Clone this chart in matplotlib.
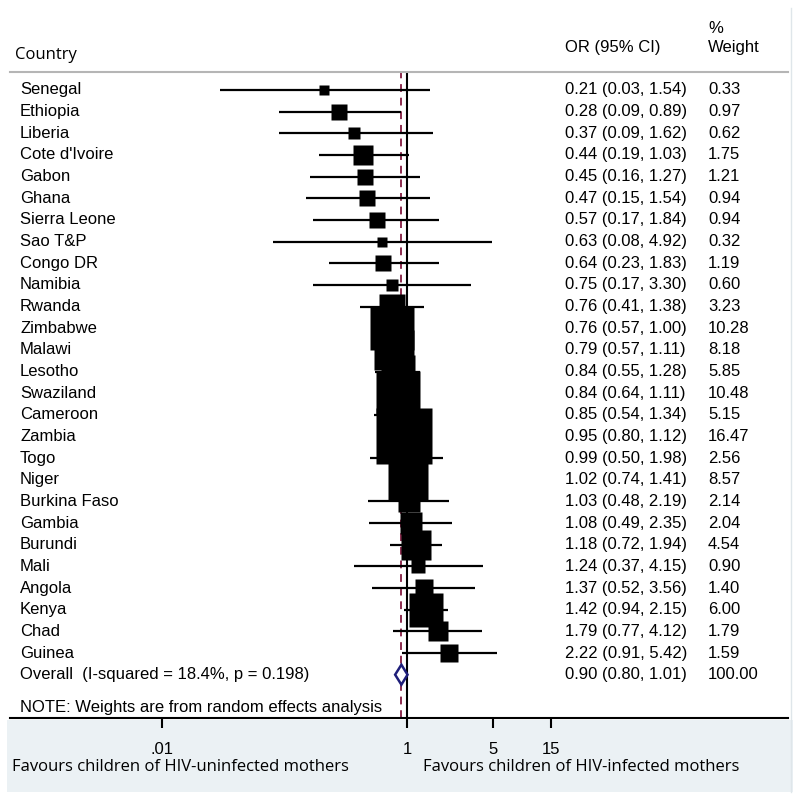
import numpy as np
import matplotlib
matplotlib.use("Agg")
import matplotlib.pyplot as plt
from matplotlib.patches import Rectangle
from matplotlib.lines import Line2D
from matplotlib.ticker import NullLocator

# ---------- data ----------
countries = [
    "Senegal", "Ethiopia", "Liberia", "Cote d'Ivoire", "Gabon", "Ghana",
    "Sierra Leone", "Sao T&P", "Congo DR", "Namibia", "Rwanda", "Zimbabwe",
    "Malawi", "Lesotho", "Swaziland", "Cameroon", "Zambia", "Togo", "Niger",
    "Burkina Faso", "Gambia", "Burundi", "Mali", "Angola", "Kenya", "Chad",
    "Guinea",
]
odds = [0.21, 0.28, 0.37, 0.44, 0.45, 0.47, 0.57, 0.63, 0.64, 0.75, 0.76,
        0.76, 0.79, 0.84, 0.84, 0.85, 0.95, 0.99, 1.02, 1.03, 1.08, 1.18,
        1.24, 1.37, 1.42, 1.79, 2.22]
ci_low = [0.03, 0.09, 0.09, 0.19, 0.16, 0.15, 0.17, 0.08, 0.23, 0.17, 0.41,
          0.57, 0.57, 0.55, 0.64, 0.54, 0.80, 0.50, 0.74, 0.48, 0.49, 0.72,
          0.37, 0.52, 0.94, 0.77, 0.91]
ci_high = [1.54, 0.89, 1.62, 1.03, 1.27, 1.54, 1.84, 4.92, 1.83, 3.30, 1.38,
           1.00, 1.11, 1.28, 1.11, 1.34, 1.12, 1.98, 1.41, 2.19, 2.35, 1.94,
           4.15, 3.56, 2.15, 4.12, 5.42]
weights = [0.33, 0.97, 0.62, 1.75, 1.21, 0.94, 0.94, 0.32, 1.19, 0.60, 3.23,
           10.28, 8.18, 5.85, 10.48, 5.15, 16.47, 2.56, 8.57, 2.14, 2.04,
           4.54, 0.90, 1.40, 6.00, 1.79, 1.59]

overall_or, overall_lo, overall_hi, overall_w = 0.90, 0.80, 1.01, 100.00
overall_label = "Overall  (I-squared = 18.4%, p = 0.198)"
note_label = "NOTE: Weights are from random effects analysis"
tick_vals = [0.01, 1, 5, 15]
tick_labels = [".01", "1", "5", "15"]
left_label = "Favours children of HIV-uninfected mothers"
right_label = "Favours children of HIV-infected mothers"

# ---------- layout ----------
plt.rcParams["font.family"] = ["Liberation Sans", "DejaVu Sans"]
FS = 12
W = H = 800.0

fig = plt.figure(figsize=(8, 8), dpi=100)

# bottom shaded panel + faint frame on the right
fig.add_artist(Rectangle((7 / W, 8 / H), 786 / W, 72 / H,
                         transform=fig.transFigure, facecolor="#ebf1f4",
                         edgecolor="none", zorder=0))
fig.add_artist(Line2D([791 / W, 791 / W], [8 / H, 1 - 8 / H],
                      transform=fig.transFigure, color="#dfe6ea", lw=1))

ax = fig.add_axes([10 / W, 1 - 718 / H, 778 / W, (718 - 72) / H])
ax.patch.set_alpha(0)
ax.set_xscale("log")
px_per_dec = 122.5
ax.set_xlim(10 ** ((10 - 407) / px_per_dec), 10 ** ((788 - 407) / px_per_dec))
ax.set_ylim(29.0, -0.83)

for s in ("left", "right"):
    ax.spines[s].set_visible(False)
ax.spines["top"].set_color("#b5b5b5")
ax.spines["top"].set_linewidth(1.5)
ax.spines["bottom"].set_linewidth(1.5)

ax.set_xticks(tick_vals, tick_labels)
ax.xaxis.set_minor_locator(NullLocator())
ax.tick_params(axis="x", direction="out", length=7, width=1.5, pad=10,
               labelsize=FS)
ax.set_yticks([])

rows = np.arange(len(countries))

ax.axvline(1, color="black", lw=1.5, zorder=1)
ax.axvline(overall_or, color="#8c2d4f", lw=1.4, dashes=(4, 3), zorder=1)

ax.hlines(rows, ci_low, ci_high, color="black", lw=1.6, zorder=2)
for y, o, w in zip(rows, odds, weights):
    ms = 9.3 * np.sqrt(w) + 1.9
    ax.plot(o, y, marker="s", ms=ms, color="black", mec="none", zorder=3)

yo = len(countries)
d = 0.46
ax.fill([overall_lo, overall_or, overall_hi, overall_or],
        [yo, yo - d, yo, yo + d], facecolor="white", edgecolor="#1f1f7a",
        lw=1.8, zorder=4)

tr = ax.get_yaxis_transform()
x_name, x_or, x_w = 0.0129, 0.7134, 0.8972

ax.text(0.0064, -1.62, "Country", transform=tr, ha="left", va="center",
        fontsize=FS, family=["Open Sans", "DejaVu Sans"], clip_on=False)
ax.text(x_or, -1.94, "OR (95% CI)", transform=tr, ha="left", va="center",
        fontsize=FS, clip_on=False)
ax.text(x_w, -2.86, "%", transform=tr, ha="left", va="center",
        fontsize=FS, clip_on=False)
ax.text(x_w, -1.94, "Weight", transform=tr, ha="left", va="center",
        fontsize=FS, clip_on=False)

for y, c, o, l, h, w in zip(rows, countries, odds, ci_low, ci_high, weights):
    ax.text(x_name, y, c, transform=tr, ha="left", va="center", fontsize=FS)
    ax.text(x_or, y, f"{o:.2f} ({l:.2f}, {h:.2f})", transform=tr,
            ha="left", va="center", fontsize=FS)
    ax.text(x_w, y, f"{w:.2f}", transform=tr, ha="left", va="center",
            fontsize=FS)

ax.text(x_name, yo, overall_label, transform=tr, ha="left", va="center",
        fontsize=FS)
ax.text(x_or, yo, f"{overall_or:.2f} ({overall_lo:.2f}, {overall_hi:.2f})",
        transform=tr, ha="left", va="center", fontsize=FS)
ax.text(x_w, yo, f"{overall_w:.2f}", transform=tr, ha="left", va="center",
        fontsize=FS)
ax.text(x_name, yo + 1.5, note_label, transform=tr, ha="left", va="center",
        fontsize=FS)

fig.text(12 / W, 1 - 767 / H, left_label, ha="left", va="center",
         fontsize=FS, family=["Open Sans", "DejaVu Sans"])
fig.text(423 / W, 1 - 767 / H, right_label, ha="left", va="center",
         fontsize=FS, family=["Open Sans", "DejaVu Sans"])

fig.savefig("out.png", dpi=100)
